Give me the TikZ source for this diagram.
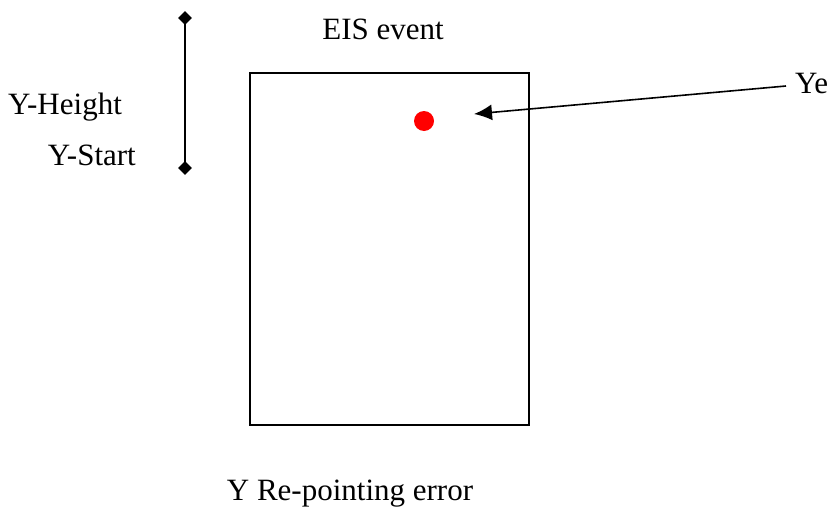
\documentclass[tikz,border=0pt]{standalone}
\usepackage{fontspec}
\setmainfont{Liberation Serif}
\usetikzlibrary{arrows.meta,shapes.geometric}
\begin{document}
\begin{tikzpicture}[x=1pt,y=-1pt,
  lbl/.style={inner sep=0pt,font=\fontsize{31}{37}\selectfont},
  tip/.style={diamond,fill=black,inner sep=0pt,minimum size=14pt},
  frame/.style={draw,line width=1.6pt},
  pointer/.style={line width=1.6pt,-{Latex[length=18pt,width=16pt]}}]
\useasboundingbox (0,0) rectangle (829,506);
\clip (0,0) rectangle (829,506);
\node[frame,minimum width=279pt,minimum height=352pt,anchor=north west,inner sep=0pt] (box) at (249,72) {};
\node[circle,fill=red,minimum size=20pt,inner sep=0pt] (dot) at (424,121) {};
\node[tip] (top) at (185,18) {};
\node[tip] (bot) at (185,168) {};
\draw[line width=1.6pt] (top.center) -- (bot.center);
\coordinate (ps) at (786,86);
\coordinate (pe) at (474,114);
\draw[pointer] (ps) -- (pe);
\node[lbl] (eis) at (383,29) {EIS event};
\node[lbl,anchor=west] (yh) at (8,107) {Y-Height};
\node[lbl,anchor=east] (ys) at (136,155) {Y-Start};
\node[lbl,anchor=west] (ye) at (795,84) {Ye};
\node[lbl] (yr) at (350,494) {Y Re-pointing error};
\end{tikzpicture}
\end{document}
